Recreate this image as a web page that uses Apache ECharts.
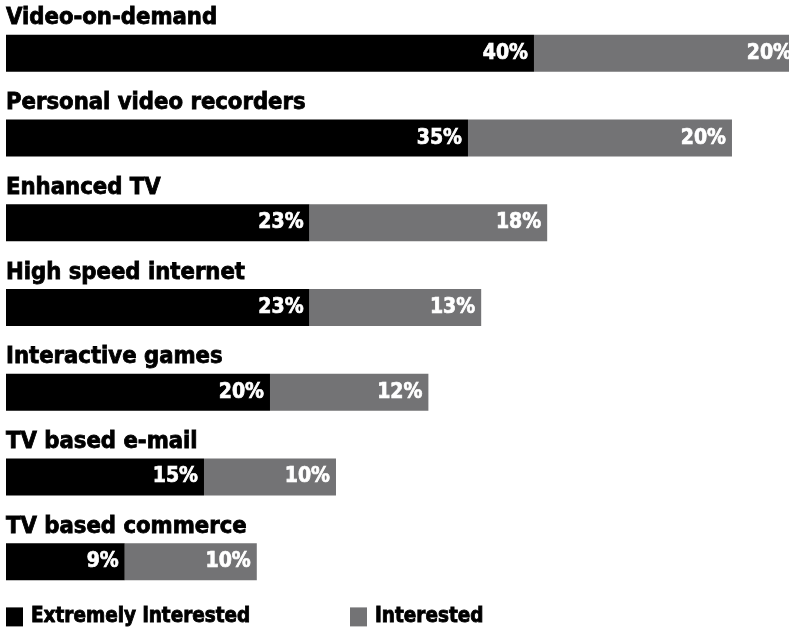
<!DOCTYPE html>
<html>
<head>
<meta charset="utf-8">
<script src="https://cdn.jsdelivr.net/npm/echarts@6/dist/echarts.min.js"></script>
<style>
  html, body { margin: 0; padding: 0; background: #fff; }
  #chart { width: 789px; height: 629px; }
</style>
</head>
<body>
<div id="chart"></div>
<script>
// Interest in interactive TV services (% of respondents)
const categories = [
  'Video-on-demand',
  'Personal video recorders',
  'Enhanced TV',
  'High speed internet',
  'Interactive games',
  'TV based e-mail',
  'TV based commerce'
];
const extremelyInterested = [40, 35, 23, 23, 20, 15, 9];
const interested = [20, 20, 18, 13, 12, 10, 10];
const seriesNames = ['Extremely interested', 'Interested'];

const FONT = '"DejaVu Sans Condensed", "DejaVu Sans", sans-serif';
const BLACK = '#000000';
const GREY = '#737375';

// a thin outline in the text colour gives the heavy headline weight
const valueLabel = {
  show: true,
  position: 'insideRight',
  distance: 6,
  color: '#ffffff',
  textBorderColor: '#ffffff',
  textBorderWidth: 0.7,
  fontFamily: FONT,
  fontWeight: 'bold',
  fontSize: 21,
  formatter: p => p.value + '%'
};

const legendText = {
  fontFamily: FONT, fontWeight: 'bold', fontSize: 20.5, color: '#000',
  textBorderColor: '#000', textBorderWidth: 0.8,
  padding: [0, 0, 0, 3]
};

const chart = echarts.init(document.getElementById('chart'));
chart.setOption({
  backgroundColor: '#ffffff',
  animation: false,
  grid: { left: 6, top: 11, right: 0, height: 593, containLabel: false },
  xAxis: {
    // 13.2 px per percentage point across the 783 px plot width
    type: 'value', min: 0, max: 59.32, show: false
  },
  yAxis: {
    type: 'category',
    data: categories,
    inverse: true,
    axisLine: { show: false },
    axisTick: { show: false },
    splitLine: { show: false },
    axisLabel: {
      inside: true,
      margin: 0,
      align: 'left',
      verticalAlign: 'bottom',
      padding: [0, 0, 23, 0],
      color: '#000000',
      textBorderColor: '#000000',
      textBorderWidth: 0.8,
      fontFamily: FONT,
      fontWeight: 'bold',
      fontSize: 23.6
    }
  },
  legend: [
    {
      data: [seriesNames[0]],
      left: 6, top: 606,
      padding: 0,
      itemWidth: 17, itemHeight: 19,
      icon: 'rect',
      textStyle: legendText
    },
    {
      data: [seriesNames[1]],
      left: 350, top: 606,
      padding: 0,
      itemWidth: 17, itemHeight: 19,
      icon: 'rect',
      textStyle: legendText
    }
  ],
  series: [
    {
      name: seriesNames[0], type: 'bar', stack: 'total',
      data: extremelyInterested, barWidth: 37, clip: false,
      itemStyle: { color: BLACK },
      label: valueLabel
    },
    {
      name: seriesNames[1], type: 'bar', stack: 'total',
      data: interested, barWidth: 37, clip: false,
      itemStyle: { color: GREY },
      label: valueLabel
    }
  ]
});
</script>
</body>
</html>
